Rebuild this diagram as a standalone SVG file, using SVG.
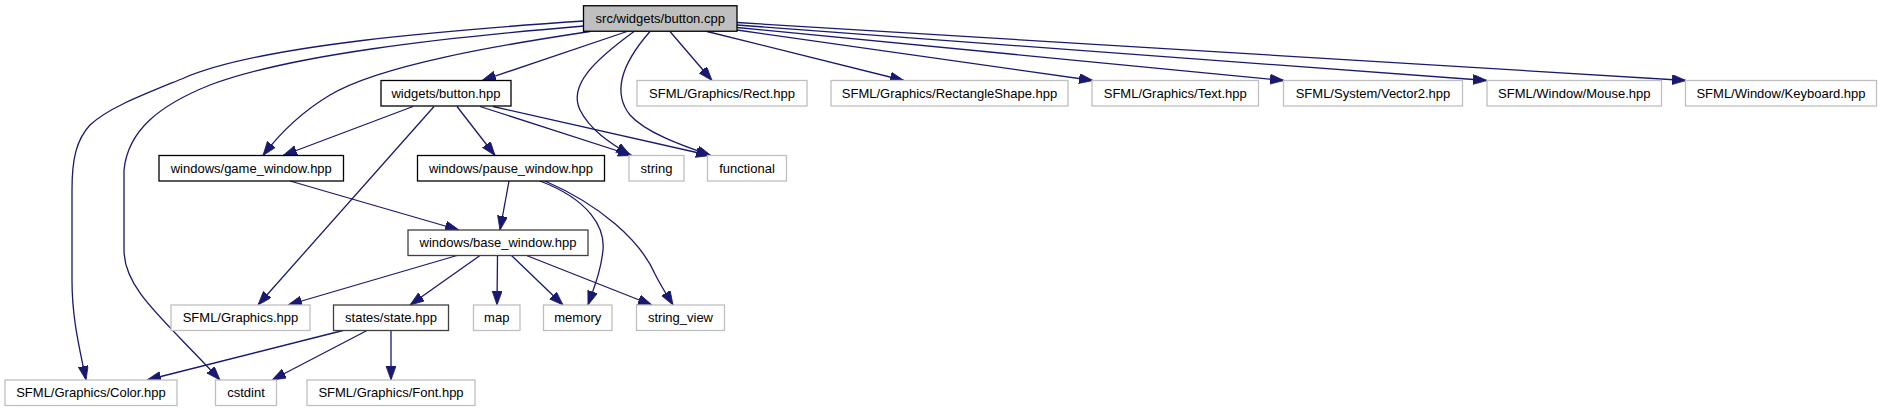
<svg xmlns="http://www.w3.org/2000/svg" width="1881" height="411" viewBox="0 0 1881 411">
<style>
.n rect{fill:#fff;stroke:#bfbfbf;stroke-width:1.3}
.n.d rect{stroke:#000}
.n.g rect{stroke:#404040}
.n.r rect{fill:#bfbfbf;stroke:#000}
.n text{font-family:"Liberation Sans",Arial,Helvetica,sans-serif;font-size:13px;fill:#000;text-anchor:middle}
#edges path{fill:none;stroke:#191970;stroke-width:1.3;marker-end:url(#ah)}
</style>
<defs>
<marker id="ah" markerUnits="userSpaceOnUse" markerWidth="15" markerHeight="11" refX="14" refY="5" orient="auto">
<path d="M0,0 L14,5 L0,10 Z" fill="#191970" stroke="#191970" stroke-width="0.8"/>
</marker>
</defs>
<rect width="1881" height="411" fill="#fff"/>
<g id="edges">
<path d="M627,31.5 L482,80.5"/>
<path d="M670,31.5 L712,80.5"/>
<path d="M707,31.5 L904,80.5"/>
<path d="M737,30 L1093,80.5"/>
<path d="M737,27.5 L1284,80.5"/>
<path d="M737,25 L1487,80.5"/>
<path d="M737,22.5 L1686,80.5"/>
<path d="M634,31.5 C595,60 568,85 580,110 C590,130 610,143 630,155"/>
<path d="M650,31.5 C625,60 610,90 630,115 C645,132 680,145 711,155.5"/>
<path d="M590,31.5 C500,45 380,65 330,95 C300,113 280,133 263,155.5"/>
<path d="M584,21 C450,30 260,45 184,78 C140,96 108,108 90,125 C76,140 72,160 72,190 L72,280 C72,320 80,350 86,380"/>
<path d="M584,26 C440,38 290,55 210,85 C160,105 128,130 124,170 L124,250 C124,290 165,320 220,380"/>
<path d="M413,106.5 L283,155.5"/>
<path d="M434,106.5 L258,305"/>
<path d="M457,106.5 L495,155.5"/>
<path d="M480,106.5 L632,155.5"/>
<path d="M493,106.5 L710,155.5"/>
<path d="M290,181 L459,230"/>
<path d="M509,181 L500,230"/>
<path d="M540,181 C590,200 605,228 603,250 C601,270 595,285 588,305"/>
<path d="M545,181 C600,205 640,240 655,274 C662,288 667,295 673,305"/>
<path d="M457,255.5 L288,305"/>
<path d="M480,255.5 L410,305"/>
<path d="M497.5,255.5 L497,305"/>
<path d="M511.5,255.5 L563,305"/>
<path d="M526.5,255.5 L652,305"/>
<path d="M343,330.5 L147,380"/>
<path d="M367,330.5 L272,380"/>
<path d="M391,330.5 L391,380"/>
</g>
<g id="node-root" class="n r"><rect x="583.5" y="5.75" width="153.5" height="25.5"/><text x="660.25" y="23">src/widgets/button.cpp</text></g>
<g id="node-button-hpp" class="n d"><rect x="381" y="80.5" width="130" height="25.5"/><text x="446" y="97.75">widgets/button.hpp</text></g>
<g id="node-rect" class="n"><rect x="637" y="80.5" width="170" height="25.5"/><text x="722" y="97.75">SFML/Graphics/Rect.hpp</text></g>
<g id="node-rectangleshape" class="n"><rect x="831" y="80.5" width="237" height="25.5"/><text x="949.5" y="97.75">SFML/Graphics/RectangleShape.hpp</text></g>
<g id="node-text" class="n"><rect x="1092" y="80.5" width="166.5" height="25.5"/><text x="1175.25" y="97.75">SFML/Graphics/Text.hpp</text></g>
<g id="node-vector2" class="n"><rect x="1283.5" y="80.5" width="179" height="25.5"/><text x="1373" y="97.75">SFML/System/Vector2.hpp</text></g>
<g id="node-mouse" class="n"><rect x="1487" y="80.5" width="174.5" height="25.5"/><text x="1574.25" y="97.75">SFML/Window/Mouse.hpp</text></g>
<g id="node-keyboard" class="n"><rect x="1685.5" y="80.5" width="191" height="25.5"/><text x="1781" y="97.75">SFML/Window/Keyboard.hpp</text></g>
<g id="node-game-window" class="n d"><rect x="159" y="155.5" width="184.5" height="25.5"/><text x="251.25" y="172.75">windows/game_window.hpp</text></g>
<g id="node-pause-window" class="n d"><rect x="417.5" y="155.5" width="187" height="25.5"/><text x="511" y="172.75">windows/pause_window.hpp</text></g>
<g id="node-string" class="n"><rect x="629" y="155.5" width="55" height="25.5"/><text x="656.5" y="172.75">string</text></g>
<g id="node-functional" class="n"><rect x="707.5" y="155.5" width="79" height="25.5"/><text x="747" y="172.75">functional</text></g>
<g id="node-base-window" class="n g"><rect x="408" y="230" width="180" height="25.5"/><text x="498" y="247.25">windows/base_window.hpp</text></g>
<g id="node-graphics" class="n"><rect x="171" y="305" width="139" height="25.5"/><text x="240.5" y="322.25">SFML/Graphics.hpp</text></g>
<g id="node-state" class="n g"><rect x="333.5" y="305" width="115" height="25.5"/><text x="391" y="322.25">states/state.hpp</text></g>
<g id="node-map" class="n"><rect x="473.5" y="305" width="46.5" height="25.5"/><text x="496.75" y="322.25">map</text></g>
<g id="node-memory" class="n"><rect x="543.5" y="305" width="68.5" height="25.5"/><text x="577.75" y="322.25">memory</text></g>
<g id="node-string-view" class="n"><rect x="636.5" y="305" width="88" height="25.5"/><text x="680.5" y="322.25">string_view</text></g>
<g id="node-color" class="n"><rect x="5" y="380" width="172" height="25.5"/><text x="91" y="397.25">SFML/Graphics/Color.hpp</text></g>
<g id="node-cstdint" class="n"><rect x="215.5" y="380" width="61" height="25.5"/><text x="246" y="397.25">cstdint</text></g>
<g id="node-font" class="n"><rect x="307" y="380" width="168" height="25.5"/><text x="391" y="397.25">SFML/Graphics/Font.hpp</text></g>
</svg>
